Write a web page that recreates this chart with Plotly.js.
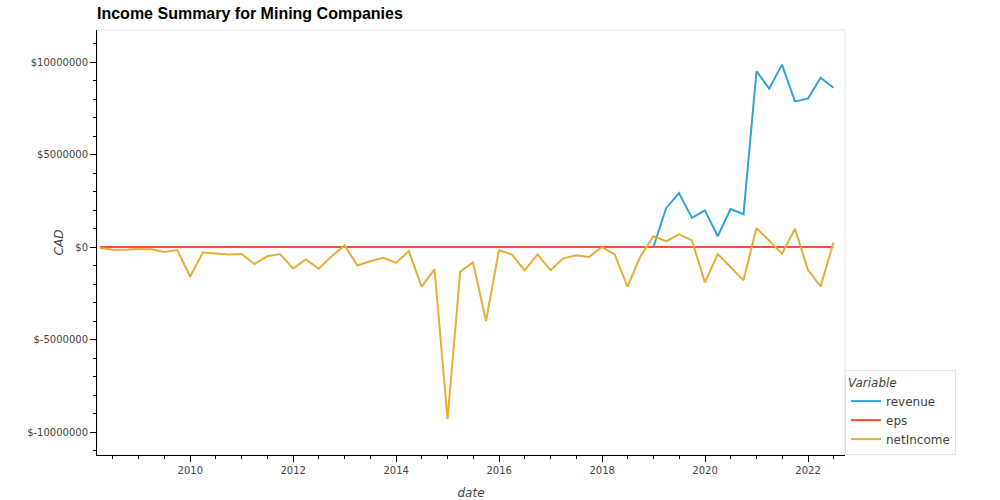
<!DOCTYPE html>
<html>
<head>
<meta charset="utf-8">
<script src="https://cdn.plot.ly/plotly-3.0.1.min.js"></script>
<style>body{margin:0}#chart{width:1000px;height:500px}</style>
</head>
<body>
<div id="chart"></div>
<script>
// quarterly dates 2008Q1 .. 2022Q2
const dates = [];
for (let y = 2008; y <= 2022; y++) {
    for (const m of ["03-31", "06-30", "09-30", "12-31"]) {
        if (y === 2022 && (m === "09-30" || m === "12-31")) continue;
        dates.push(y + "-" + m);
    }
}

// values in millions CAD
const netIncomeM = [-0.05, -0.15, -0.15, -0.1, -0.12, -0.27, -0.16, -1.59, -0.3, -0.36,
    -0.4, -0.38, -0.92, -0.5, -0.38, -1.15, -0.67, -1.17, -0.5, 0.09,
    -1.0, -0.77, -0.58, -0.86, -0.22, -2.14, -1.19, -9.3, -1.33, -0.83,
    -4.0, -0.18, -0.4, -1.26, -0.4, -1.26, -0.61, -0.45, -0.54, 0.0,
    -0.4, -2.14, -0.5, 0.58, 0.31, 0.68, 0.36, -1.91, -0.38, -1.08,
    -1.8, 1.03, 0.32, -0.36, 0.99, -1.23, -2.13, 0.25];
const revenueLateM = [0, 2.1, 2.92, 1.57, 1.98, 0.58, 2.05, 1.77, 9.5, 8.56, 9.86, 7.87, 8.02, 9.15, 8.61];

const netIncome = netIncomeM.map(v => v * 1e6);
const revenue = dates.map((d, i) => {
    const k = i - (dates.length - revenueLateM.length);
    return k >= 0 ? revenueLateM[k] * 1e6 : 0;
});
const eps = dates.map(() => 0);

const traces = [
    { name: "revenue", x: dates, y: revenue, mode: "lines", line: { color: "#30a2da", width: 2 } },
    { name: "eps", x: dates, y: eps, mode: "lines", line: { color: "#fc4f30", width: 2 } },
    { name: "netIncome", x: dates, y: netIncome, mode: "lines", line: { color: "#e5ae38", width: 2 } }
];

const layout = {
    width: 1000, height: 500,
    margin: { l: 97, r: 155, t: 30, b: 45 },
    paper_bgcolor: "#fff", plot_bgcolor: "#fff",
    font: { family: "DejaVu Sans, sans-serif", size: 10, color: "#444" },
    title: { text: "<b>Income Summary for Mining Companies</b>", x: 0.097, xanchor: "left", y: 0.985, yanchor: "top",
        font: { size: 16, color: "#000", family: "Liberation Sans, Arial, sans-serif" } },
    xaxis: {
        type: "date", range: ["2008-03-10", "2022-09-20"], showgrid: false, zeroline: false,
        showline: true, linecolor: "#000", ticks: "outside", ticklen: 6, tickcolor: "#000",
        dtick: "M24", tick0: "2010-01-01", tickformat: "%Y",
        minor: { ticks: "outside", ticklen: 3, tickcolor: "#000", dtick: "M6" },
        title: { text: "<i>date</i>", font: { size: 12, color: "#444" } }
    },
    yaxis: {
        range: [-11.24e6, 11.73e6], showgrid: false, zeroline: false,
        showline: true, linecolor: "#000", ticks: "outside", ticklen: 6, tickcolor: "#000",
        tickvals: [-10e6, -5e6, 0, 5e6, 10e6],
        ticktext: ["$-10000000", "$-5000000", "$0", "$5000000", "$10000000"],
        minor: { ticks: "outside", ticklen: 3, tickcolor: "#000", dtick: 1e6 },
        title: { text: "<i>CAD</i>", font: { size: 12, color: "#444" } }
    },
    legend: {
        x: 1.0, xanchor: "left", y: 0, yanchor: "bottom",
        bordercolor: "#e5e5e5", borderwidth: 1, bgcolor: "#fff",
        title: { text: "<i>Variable</i>", font: { size: 12 } },
        font: { size: 12, color: "#444" }
    },
    shapes: [{ type: "rect", xref: "paper", yref: "paper", x0: 0, x1: 1, y0: 0, y1: 1,
        line: { color: "#e5e5e5", width: 1 }, layer: "below" }]
};

Plotly.newPlot("chart", traces, layout, { displayModeBar: false });
</script>
</body>
</html>
